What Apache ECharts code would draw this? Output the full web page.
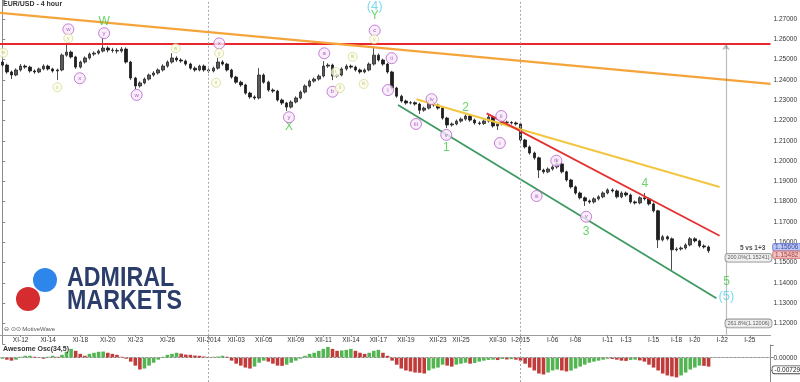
<!DOCTYPE html>
<html><head><meta charset="utf-8">
<script src="https://cdn.jsdelivr.net/npm/echarts@6/dist/echarts.min.js"></script>
<style>html,body{margin:0;padding:0;background:#fff}#c{width:800px;height:382px}</style>
</head><body><div id="c"></div>
<script>
// ---- slots (4-hour bars, two per slot) ----
const slotCount = 168;
const slots = Array.from({length: slotCount}, (_, i) => String(i));

// ---- x tick labels ----
const tickLabels = ['XI-12','XI-14','XI-18','XI-20','XI-23','XI-26','XII-2014','XII-03','XII-05','XII-09','XII-11','XII-14','XII-17','XII-19','XII-23','XII-25','XII-30','I-2015','I-06','I-08','I-11','I-13','I-15','I-18','I-20','I-22','I-25'];
const tickSlots  = [4,10,17,23,29,36,45,51,57,64,70,76,82,88,95,100,108,113,120,125,132,136,142,147,151,157,163];
const periodSlots = ['45','113'];

// ---- EUR/USD prices ----
const opens = [1.2488,1.2473,1.2439,1.2424,1.2449,1.2468,1.2463,1.2444,1.2439,1.2454,
1.2468,1.2454,1.2444,1.2449,1.2522,1.2537,1.2513,1.2463,1.2488,1.2508,
1.2527,1.2532,1.2542,1.2557,1.2547,1.2545,1.2542,1.2552,1.2488,1.2409,
1.2370,1.2385,1.2404,1.2424,1.2434,1.2449,1.2468,1.2488,1.2508,1.2498,
1.2493,1.2478,1.2458,1.2449,1.2468,1.2449,1.2444,1.2458,1.2488,1.2478,
1.2449,1.2414,1.2389,1.2375,1.2335,1.2316,1.2311,1.2424,1.2389,1.2350,
1.2345,1.2301,1.2286,1.2266,1.2291,1.2311,1.2340,1.2370,1.2394,1.2404,
1.2419,1.2468,1.2473,1.2419,1.2424,1.2454,1.2468,1.2463,1.2449,1.2439,
1.2449,1.2478,1.2522,1.2498,1.2478,1.2439,1.2360,1.2320,1.2296,1.2286,
1.2288,1.2281,1.2251,1.2261,1.2286,1.2276,1.2261,1.2212,1.2178,1.2183,
1.2197,1.2207,1.2222,1.2202,1.2188,1.2185,1.2197,1.2217,1.2173,1.2183,
1.2192,1.2190,1.2188,1.2183,1.2104,1.2070,1.2040,1.2016,1.1956,1.1947,
1.1961,1.1971,1.1986,1.1947,1.1907,1.1873,1.1843,1.1819,1.1804,1.1799,
1.1814,1.1824,1.1843,1.1858,1.1853,1.1824,1.1843,1.1833,1.1799,1.1794,
1.1819,1.1814,1.1789,1.1755,1.1612,1.1627,1.1617,1.1563,1.1567,1.1572,
1.1587,1.1617,1.1607,1.1582,1.1577];
const closes = [1.2473,1.2439,1.2424,1.2449,1.2468,1.2463,1.2444,1.2439,1.2454,1.2468,
1.2454,1.2444,1.2449,1.2522,1.2537,1.2513,1.2463,1.2488,1.2508,1.2527,
1.2532,1.2542,1.2557,1.2547,1.2545,1.2542,1.2552,1.2488,1.2409,1.2370,
1.2385,1.2404,1.2424,1.2434,1.2449,1.2468,1.2488,1.2508,1.2498,1.2493,
1.2478,1.2458,1.2449,1.2468,1.2449,1.2444,1.2458,1.2488,1.2478,1.2449,
1.2414,1.2389,1.2375,1.2335,1.2316,1.2311,1.2424,1.2389,1.2350,1.2345,
1.2301,1.2286,1.2266,1.2291,1.2311,1.2340,1.2370,1.2394,1.2404,1.2419,
1.2468,1.2473,1.2419,1.2424,1.2454,1.2468,1.2463,1.2449,1.2439,1.2449,
1.2478,1.2522,1.2498,1.2478,1.2439,1.2360,1.2320,1.2296,1.2286,1.2288,
1.2281,1.2251,1.2261,1.2286,1.2276,1.2261,1.2212,1.2178,1.2183,1.2197,
1.2207,1.2222,1.2202,1.2188,1.2185,1.2197,1.2217,1.2173,1.2183,1.2192,
1.2190,1.2188,1.2183,1.2104,1.2070,1.2040,1.2016,1.1956,1.1947,1.1961,
1.1971,1.1986,1.1947,1.1907,1.1873,1.1843,1.1819,1.1804,1.1799,1.1814,
1.1824,1.1843,1.1858,1.1853,1.1824,1.1843,1.1833,1.1799,1.1794,1.1819,
1.1814,1.1789,1.1755,1.1612,1.1627,1.1617,1.1563,1.1567,1.1572,1.1587,
1.1617,1.1607,1.1582,1.1577,1.1558];
const lows = [1.2465,1.2430,1.2404,1.2418,1.2441,1.2455,1.2436,1.2430,1.2433,1.2447,
1.2446,1.2436,1.2399,1.2442,1.2514,1.2505,1.2454,1.2456,1.2480,1.2500,
1.2518,1.2524,1.2535,1.2536,1.2534,1.2530,1.2534,1.2480,1.2400,1.2355,
1.2362,1.2378,1.2397,1.2416,1.2426,1.2441,1.2460,1.2480,1.2489,1.2484,
1.2470,1.2450,1.2440,1.2442,1.2440,1.2435,1.2437,1.2451,1.2470,1.2441,
1.2406,1.2381,1.2366,1.2327,1.2307,1.2302,1.2304,1.2381,1.2342,1.2336,
1.2293,1.2277,1.2247,1.2259,1.2284,1.2304,1.2333,1.2363,1.2386,1.2396,
1.2412,1.2459,1.2399,1.2411,1.2417,1.2446,1.2455,1.2441,1.2430,1.2432,
1.2442,1.2471,1.2490,1.2470,1.2431,1.2352,1.2312,1.2288,1.2278,1.2279,
1.2273,1.2232,1.2243,1.2254,1.2268,1.2253,1.2204,1.2163,1.2170,1.2176,
1.2189,1.2199,1.2194,1.2180,1.2177,1.2178,1.2190,1.2165,1.2153,1.2176,
1.2182,1.2180,1.2175,1.2096,1.2062,1.2032,1.2007,1.1917,1.1938,1.1940,
1.1953,1.1963,1.1939,1.1899,1.1865,1.1835,1.1811,1.1779,1.1790,1.1791,
1.1806,1.1817,1.1836,1.1845,1.1816,1.1817,1.1825,1.1791,1.1786,1.1787,
1.1806,1.1781,1.1747,1.1572,1.1604,1.1609,1.1464,1.1555,1.1559,1.1564,
1.1580,1.1599,1.1574,1.1569,1.1548];
const highs = [1.2497,1.2480,1.2446,1.2457,1.2478,1.2476,1.2470,1.2452,1.2461,1.2477,
1.2475,1.2460,1.2456,1.2530,1.2572,1.2545,1.2519,1.2495,1.2516,1.2535,
1.2541,1.2550,1.2611,1.2566,1.2558,1.2556,1.2562,1.2560,1.2494,1.2415,
1.2393,1.2412,1.2431,1.2443,1.2457,1.2477,1.2496,1.2532,1.2516,1.2507,
1.2500,1.2485,1.2466,1.2475,1.2476,1.2457,1.2466,1.2508,1.2497,1.2484,
1.2455,1.2420,1.2396,1.2381,1.2342,1.2324,1.2458,1.2432,1.2396,1.2358,
1.2351,1.2308,1.2292,1.2299,1.2319,1.2348,1.2378,1.2402,1.2412,1.2427,
1.2493,1.2482,1.2480,1.2432,1.2462,1.2477,1.2476,1.2470,1.2456,1.2457,
1.2486,1.2567,1.2530,1.2505,1.2484,1.2445,1.2366,1.2327,1.2303,1.2296,
1.2294,1.2287,1.2268,1.2301,1.2293,1.2283,1.2267,1.2218,1.2191,1.2205,
1.2215,1.2230,1.2229,1.2209,1.2196,1.2205,1.2232,1.2224,1.2190,1.2200,
1.2199,1.2197,1.2195,1.2189,1.2110,1.2077,1.2047,1.2022,1.1963,1.1969,
1.1979,1.2016,1.1993,1.1953,1.1913,1.1880,1.1850,1.1826,1.1811,1.1822,
1.1832,1.1851,1.1866,1.1866,1.1860,1.1851,1.1850,1.1840,1.1806,1.1827,
1.1843,1.1820,1.1796,1.1760,1.1636,1.1634,1.1624,1.1576,1.1580,1.1595,
1.1626,1.1625,1.1613,1.1590,1.1584];

// ---- Awesome Oscillator (34,5) ----
const aoValues = [-0.0008,-0.0016,-0.0024,-0.0016,0.0008,0.0016,0.0016,0.0008,0.0002,-0.0008,
0.0008,0.0016,0.0008,0.0024,0.0049,0.0073,0.0057,0.0032,0.0016,0.0032,
0.0041,0.0049,0.0051,0.0041,0.0032,0.0024,0.0008,-0.0008,-0.0032,-0.0065,
-0.0097,-0.0089,-0.0065,-0.0041,-0.0016,0.0008,0.0024,0.0032,0.0041,0.0034,
0.0026,0.0024,0.0018,0.0016,0.0010,0.0004,0.0008,0.0010,0.0016,0.0008,
-0.0024,-0.0049,-0.0065,-0.0081,-0.0089,-0.0073,-0.0041,-0.0024,-0.0032,-0.0049,
-0.0065,-0.0067,-0.0057,-0.0041,-0.0024,-0.0008,0.0016,0.0032,0.0041,0.0057,
0.0073,0.0089,0.0073,0.0057,0.0060,0.0065,0.0073,0.0057,0.0041,0.0032,
0.0041,0.0057,0.0065,0.0041,0.0016,-0.0024,-0.0057,-0.0089,-0.0105,-0.0113,
-0.0122,-0.0124,-0.0130,-0.0105,-0.0089,-0.0081,-0.0057,-0.0065,-0.0073,-0.0057,
-0.0049,-0.0041,-0.0049,-0.0043,-0.0032,-0.0024,-0.0018,-0.0016,-0.0019,-0.0010,
-0.0014,-0.0012,-0.0016,-0.0024,-0.0049,-0.0081,-0.0105,-0.0130,-0.0138,-0.0122,
-0.0105,-0.0097,-0.0105,-0.0113,-0.0106,-0.0089,-0.0073,-0.0057,-0.0041,-0.0032,
-0.0024,-0.0016,-0.0008,-0.0010,-0.0016,-0.0024,-0.0026,-0.0018,-0.0016,-0.0022,
-0.0032,-0.0057,-0.0081,-0.0105,-0.0130,-0.0146,-0.0154,-0.0162,-0.0146,-0.0122,
-0.0097,-0.0081,-0.0065,-0.0067,-0.0073];
const aoLast = -0.00729;

// ---- trend lines [slot, price] ----
const trendOrange = [[-0.5,1.2730],[167.5,1.2380]];
const resistRed   = [[-0.5,1.2577],[167.5,1.2577]];
const trendYellow = [[90.3,1.2305],[156.4,1.1872]];
const trendRed    = [[105.6,1.2235],[156.4,1.1632]];
const trendGreen  = [[86.3,1.2276],[155.7,1.1324]];
const targetArrow = [[157.8,1.1145],[157.8,1.2577]];

// ---- wave labels [text, slot, price] ----
const circledLabels = [['w',14.4,1.2649],['x',16.9,1.2408],['y',22.2,1.2630],['w',29.3,1.2326],['x',47.3,1.2580],['y',62.5,1.2216],
['a',70.2,1.2531],['b',72.0,1.2342],['c',81.2,1.2643],['ii',84.9,1.2507],['i',84.1,1.2350],
['iii',90.2,1.2183],['iv',93.6,1.2305],['v',96.8,1.2129],['ii',108.8,1.2222],['i',108.5,1.2089],
['iii',116.5,1.1828],['iv',120.8,1.2002],['v',127.3,1.1726]];
const minorLabels = [['w',0.2,1.2534],['x',12.0,1.2364],['y',14.4,1.2605],['w',37.8,1.2556],['x',46.6,1.2386],['y',47.3,1.2531],
['i',72.7,1.2439],['ii',73.6,1.2360],['iii',76.4,1.2514],['iv',78.8,1.2380],['v',81.1,1.2600]];
const waveLabels = [['W',22.2,1.2685],['X',62.5,1.2170],['Y',81.2,1.2716],['1',96.8,1.2065],['2',101.0,1.2265],['3',127.3,1.1652],['4',140.1,1.1887],['5',157.9,1.1405]];
const degreeLabels = [['(4)',81.2,1.2761],['(5)',157.9,1.1331]];
const fibLabels = [['200.0%(1.15241)',162.7,1.15241],['261.8%(1.12006)',162.7,1.12006]];
const noteLabels = [['5 vs 1+3',163.6,1.1572]];
const priceTags = [['1.15606',1.15606],['1.15482',1.15482]];

// ---------------------------------------------------------------
const FONT = '"Liberation Sans", Arial, sans-serif';
const CLEAR = 'rgba(0,0,0,0)';
const tickMap = new Map(tickSlots.map((s, k) => [s, tickLabels[k]]));
const candleData = opens.map((o, i) => [o, closes[i], lows[i], highs[i]]);
const toPts = rows => rows.map(r => ({value: [r[1], r[2]], name: r[0]}));
const GREEN = '#52b552', RED = '#c23b3b';

function lineSeries(data, color, width) {
  return {type: 'line', xAxisIndex: 1, yAxisIndex: 0, data, symbol: 'none', silent: true,
    lineStyle: {color, width}, z: 3, animation: false};
}
function textSeries(rows, size, color, weight) {
  return {type: 'scatter', xAxisIndex: 1, yAxisIndex: 0, data: toPts(rows), symbolSize: 2,
    itemStyle: {color: CLEAR}, z: 6, silent: true,
    label: {show: true, position: 'inside', formatter: '{b}', fontSize: size, color, fontWeight: weight || 'normal', fontFamily: FONT}};
}

const chart = echarts.init(document.getElementById('c'), null, {renderer: 'canvas'});
chart.setOption({
  animation: false,
  backgroundColor: '#ffffff',
  textStyle: {fontFamily: FONT},
  grid: [
    {left: 0, right: 29, top: 0, height: 343.8},
    {left: 0, right: 29, top: 345, height: 37.7}
  ],
  xAxis: [
    {type: 'category', gridIndex: 0, data: slots, boundaryGap: true, offset: -8.8,
     axisLine: {show: true, lineStyle: {color: '#9a9a9a', width: 1}},
     axisTick: {show: true, alignWithLabel: true, length: 2, interval: (i) => tickMap.has(i), lineStyle: {color: '#888'}},
     axisLabel: {show: true, interval: (i) => tickMap.has(i), formatter: (v, i) => tickMap.get(Number(v)) || '',
       fontSize: 6.5, color: '#333', margin: 2, fontFamily: FONT},
     splitLine: {show: false}},
    {type: 'value', gridIndex: 0, min: -0.5, max: 167.5, show: false},
    {type: 'category', gridIndex: 1, data: slots, boundaryGap: true, position: 'top',
     axisLine: {show: true, lineStyle: {color: '#9a9a9a'}}, axisTick: {show: false}, axisLabel: {show: false}}
  ],
  yAxis: [
    {type: 'value', gridIndex: 0, position: 'right', min: 1.11, max: 1.27936, interval: 0.01, scale: true,
     axisLine: {show: true, lineStyle: {color: '#8a8a8a'}},
     axisTick: {show: true, length: 3, lineStyle: {color: '#888'}},
     splitLine: {show: false},
     axisLabel: {fontSize: 6.5, color: '#333', margin: 3, fontFamily: FONT,
       formatter: v => (v < 1.115 || v > 1.275 || Math.abs(v * 100 - Math.round(v * 100)) > 0.01) ? '' : v.toFixed(5)}},
    {type: 'value', gridIndex: 1, position: 'right', min: -0.02, max: 0.0105, interval: 0.01,
     axisLine: {show: true, lineStyle: {color: '#8a8a8a'}},
     axisTick: {show: true, length: 3, lineStyle: {color: '#888'}},
     splitLine: {show: false},
     axisLabel: {fontSize: 6.5, color: '#333', margin: 3, fontFamily: FONT,
       formatter: v => Math.abs(v) < 1e-9 ? '0.00000' : ''}}
  ],
  series: [
    {type: 'candlestick', xAxisIndex: 0, yAxisIndex: 0, data: candleData, barWidth: 3, z: 2,
     itemStyle: {color: '#5a5a5a', color0: '#1e1e1e', borderColor: '#262626', borderColor0: '#1e1e1e', borderWidth: 0.8},
     markLine: {silent: true, symbol: 'none', animation: false,
       lineStyle: {color: '#a8a8a8', type: [2, 2], width: 1}, label: {show: false},
       data: periodSlots.map(s => ({xAxis: s}))}},
    lineSeries(resistRed, '#e8262b', 2),
    lineSeries(trendOrange, '#f4a43a', 2.2),
    lineSeries(trendYellow, '#f2c640', 2),
    lineSeries(trendRed, '#e43030', 1.8),
    lineSeries(trendGreen, '#3f9a62', 1.8),
    {type: 'lines', coordinateSystem: 'cartesian2d', xAxisIndex: 1, yAxisIndex: 0, silent: true, z: 4,
     data: [{coords: targetArrow}], symbol: ['none', 'arrow'], symbolSize: 6,
     lineStyle: {color: '#7a7a7a', width: 1.2}},
    {type: 'scatter', xAxisIndex: 1, yAxisIndex: 0, data: toPts(circledLabels), symbol: 'circle', symbolSize: 11, z: 7, silent: true,
     itemStyle: {color: '#f7e8fa', borderColor: '#b463c9', borderWidth: 1},
     label: {show: true, position: 'inside', formatter: '{b}', fontSize: 6, color: '#9a3fb3', fontFamily: FONT}},
    {type: 'scatter', xAxisIndex: 1, yAxisIndex: 0, data: toPts(minorLabels), symbol: 'circle', symbolSize: 9, z: 7, silent: true,
     itemStyle: {color: '#fbfcec', borderColor: '#cdd37a', borderWidth: 0.8},
     label: {show: true, position: 'inside', formatter: '{b}', fontSize: 5, color: '#b4ba4a', fontFamily: FONT}},
    textSeries(waveLabels, 12, '#44c944'),
    textSeries(degreeLabels, 13, '#5cd2ea'),
    textSeries(noteLabels, 6.5, '#222', 'bold'),
    {type: 'scatter', xAxisIndex: 1, yAxisIndex: 0, data: toPts(fibLabels), symbolSize: 2, itemStyle: {color: CLEAR}, z: 7, silent: true,
     label: {show: true, position: 'inside', formatter: '{b}', fontSize: 5.5, color: '#333', fontFamily: FONT,
       backgroundColor: '#eeeeee', borderColor: '#777', borderWidth: 0.8, borderRadius: 3, padding: [1, 2]}},
    {type: 'scatter', xAxisIndex: 1, yAxisIndex: 0, clip: false, symbolSize: 2, itemStyle: {color: CLEAR}, z: 8, silent: true,
     data: priceTags.map((r, k) => ({value: [167.6, r[1]], name: r[0],
       label: {offset: [0, k === 0 ? -3 : 2], backgroundColor: k === 0 ? '#aebcf2' : '#f0b4b4',
               borderColor: k === 0 ? '#5a6fd0' : '#d06060', color: k === 0 ? '#1a2a8a' : '#8a1a1a'}})),
     label: {show: true, position: 'right', distance: 1, formatter: '{b}', fontSize: 6.5, fontFamily: FONT,
       borderWidth: 0.8, borderRadius: 2, padding: [0, 2]}},
    {type: 'bar', xAxisIndex: 2, yAxisIndex: 1, data: aoValues, barCategoryGap: '22%', silent: true,
     itemStyle: {color: p => (p.dataIndex === 0 || aoValues[p.dataIndex] >= aoValues[p.dataIndex - 1]) ? GREEN : RED},
     markLine: {silent: true, symbol: 'none', animation: false,
       data: [
         {yAxis: 0, lineStyle: {color: '#bbbbbb', type: [2, 2], width: 1}, label: {show: false}},
         ...periodSlots.map(s => ({xAxis: s, lineStyle: {color: '#a8a8a8', type: [2, 2], width: 1}, label: {show: false}})),
         {yAxis: aoLast, lineStyle: {color: CLEAR, width: 1}, label: {show: true, position: 'end', distance: 2,
           formatter: String(aoLast), fontSize: 6.5, color: '#222', fontFamily: FONT,
           backgroundColor: '#ffffff', borderColor: '#444', borderWidth: 0.8, borderRadius: 2, padding: [0, 2]}}
       ]}}
  ],
  graphic: [
    {type: 'circle', shape: {cx: 45, cy: 280, r: 12}, style: {fill: '#2f86ea'}, z: 1},
    {type: 'circle', shape: {cx: 28, cy: 299, r: 12}, style: {fill: '#d42c2f'}, z: 1},
    {type: 'text', x: 67, y: 264, scaleX: 0.83, z: 1, style: {text: 'ADMIRAL', font: 'bold 28px "Liberation Sans", sans-serif', fill: '#2b3e6b'}},
    {type: 'text', x: 67, y: 287, scaleX: 0.83, z: 1, style: {text: 'MARKETS', font: 'bold 28px "Liberation Sans", sans-serif', fill: '#2b3e6b'}},
    {type: 'text', left: 3, top: 1, z: 10, style: {text: 'EUR/USD - 4 hour', font: 'bold 7px ' + FONT, fill: '#333'}},
    {type: 'text', left: 4, top: 326, z: 10, style: {text: '⊖ ⊙⊙ MotiveWave', font: '6px ' + FONT, fill: '#555'}},
    {type: 'text', left: 3, top: 346, z: 10, style: {text: 'Awesome Osc(34,5)', font: 'bold 7px ' + FONT, fill: '#333'}}
  ]
});
</script>
</body></html>
